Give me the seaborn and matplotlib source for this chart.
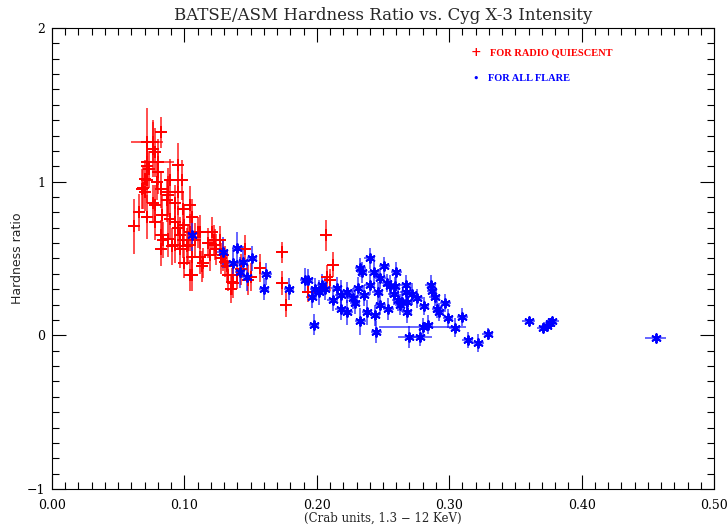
import numpy as np
import pandas as pd
import seaborn as sns
import matplotlib.pyplot as plt
from matplotlib.ticker import MultipleLocator, FormatStrFormatter

# radio quiescent points (red)
quiet_x = [0.062, 0.066, 0.069, 0.070, 0.072, 0.076, 0.082, 0.076, 0.078, 0.080,
           0.072, 0.072, 0.073, 0.080, 0.072, 0.079, 0.068, 0.070, 0.088, 0.095,
           0.082, 0.104, 0.087, 0.078, 0.093, 0.076, 0.083, 0.072, 0.078, 0.089,
           0.093, 0.099, 0.082, 0.088, 0.095, 0.099, 0.102, 0.104, 0.110, 0.112,
           0.100, 0.106, 0.112, 0.113, 0.106, 0.097, 0.091, 0.106, 0.095, 0.098,
           0.089, 0.088, 0.084, 0.082, 0.093, 0.097, 0.100, 0.103, 0.108, 0.119,
           0.121, 0.123, 0.127, 0.129, 0.131, 0.133, 0.135, 0.137, 0.136, 0.146,
           0.148, 0.157, 0.174, 0.174, 0.177, 0.122, 0.114, 0.104, 0.207, 0.212,
           0.208, 0.210, 0.193, 0.118, 0.124, 0.128, 0.132, 0.140, 0.143, 0.150]
quiet_y = [0.71, 0.80, 0.96, 1.02, 1.26, 1.21, 1.32, 1.26, 1.19, 1.13,
           1.13, 1.10, 1.08, 1.06, 1.01, 1.00, 0.95, 0.93, 0.93, 0.93,
           0.95, 0.85, 0.88, 0.85, 0.86, 0.86, 0.78, 0.77, 0.74, 0.76,
           0.74, 0.82, 0.65, 0.63, 0.70, 0.62, 0.58, 0.67, 0.67, 0.67,
           0.47, 0.51, 0.51, 0.45, 0.39, 0.56, 0.58, 0.77, 1.11, 1.01,
           1.01, 0.91, 0.62, 0.56, 0.59, 0.65, 0.72, 0.59, 0.62, 0.52,
           0.67, 0.59, 0.62, 0.52, 0.48, 0.39, 0.30, 0.34, 0.35, 0.56,
           0.36, 0.44, 0.54, 0.34, 0.20, 0.62, 0.47, 0.39, 0.65, 0.46,
           0.38, 0.36, 0.28, 0.60, 0.56, 0.50, 0.45, 0.39, 0.43, 0.38]
quiet_xerr = [0.003, 0.003, 0.003, 0.003, 0.012, 0.003, 0.004, 0.003, 0.004, 0.012,
              0.003, 0.003, 0.003, 0.004, 0.003, 0.003, 0.003, 0.003, 0.004, 0.004,
              0.003, 0.004, 0.003, 0.003, 0.004, 0.003, 0.003, 0.003, 0.003, 0.003,
              0.004, 0.004, 0.003, 0.003, 0.004, 0.004, 0.004, 0.004, 0.004, 0.004,
              0.004, 0.004, 0.004, 0.004, 0.004, 0.004, 0.003, 0.004, 0.004, 0.004,
              0.004, 0.004, 0.003, 0.003, 0.004, 0.004, 0.004, 0.004, 0.004, 0.004,
              0.004, 0.004, 0.004, 0.004, 0.004, 0.004, 0.004, 0.004, 0.004, 0.004,
              0.004, 0.004, 0.004, 0.004, 0.004, 0.004, 0.004, 0.004, 0.004, 0.004,
              0.004, 0.004, 0.003, 0.004, 0.004, 0.004, 0.004, 0.004, 0.004, 0.004]
quiet_yerr = [0.18, 0.12, 0.14, 0.12, 0.22, 0.18, 0.10, 0.14, 0.16, 0.15,
              0.12, 0.13, 0.12, 0.14, 0.15, 0.12, 0.13, 0.12, 0.16, 0.15,
              0.12, 0.12, 0.14, 0.13, 0.12, 0.12, 0.13, 0.14, 0.12, 0.13,
              0.12, 0.12, 0.10, 0.12, 0.14, 0.12, 0.12, 0.12, 0.10, 0.11,
              0.10, 0.12, 0.11, 0.10, 0.10, 0.12, 0.12, 0.12, 0.14, 0.13,
              0.14, 0.13, 0.12, 0.11, 0.12, 0.12, 0.13, 0.12, 0.11, 0.10,
              0.10, 0.10, 0.09, 0.10, 0.10, 0.10, 0.09, 0.10, 0.09, 0.09,
              0.10, 0.09, 0.07, 0.08, 0.08, 0.10, 0.10, 0.10, 0.10, 0.08,
              0.08, 0.07, 0.06, 0.10, 0.10, 0.10, 0.10, 0.09, 0.10, 0.09]

# flare points (blue)
flare_x = [0.106, 0.129, 0.137, 0.140, 0.144, 0.151, 0.142, 0.147, 0.162, 0.160,
           0.179, 0.191, 0.193, 0.196, 0.199, 0.202, 0.204, 0.198, 0.212, 0.218,
           0.218, 0.223, 0.223, 0.229, 0.233, 0.234, 0.233, 0.236, 0.238, 0.240,
           0.240, 0.243, 0.244, 0.245, 0.246, 0.248, 0.251, 0.253, 0.254, 0.255,
           0.260, 0.259, 0.261, 0.263, 0.267, 0.267, 0.268, 0.268, 0.270, 0.248,
           0.286, 0.289, 0.297, 0.291, 0.292, 0.284, 0.278, 0.280, 0.299, 0.304,
           0.310, 0.314, 0.322, 0.329, 0.360, 0.371, 0.374, 0.376, 0.378, 0.456,
           0.206, 0.215, 0.227, 0.276, 0.272, 0.258, 0.264, 0.281, 0.287, 0.231]
flare_y = [0.65, 0.54, 0.47, 0.57, 0.48, 0.50, 0.41, 0.38, 0.40, 0.30,
           0.30, 0.36, 0.36, 0.25, 0.30, 0.28, 0.33, 0.07, 0.23, 0.26,
           0.17, 0.28, 0.15, 0.21, 0.44, 0.41, 0.09, 0.26, 0.15, 0.50,
           0.33, 0.41, 0.13, 0.02, 0.28, 0.20, 0.45, 0.34, 0.17, 0.32,
           0.41, 0.32, 0.23, 0.20, 0.33, 0.28, 0.22, 0.15, -0.01, 0.37,
           0.33, 0.25, 0.21, 0.17, 0.15, 0.07, -0.01, 0.055, 0.11, 0.05,
           0.12, -0.03, -0.05, 0.01, 0.09, 0.05, 0.06, 0.08, 0.09, -0.02,
           0.30, 0.31, 0.24, 0.24, 0.27, 0.27, 0.22, 0.19, 0.29, 0.31]
flare_xerr = [0.003, 0.004, 0.004, 0.004, 0.004, 0.004, 0.004, 0.004, 0.004, 0.004,
              0.004, 0.004, 0.004, 0.004, 0.004, 0.004, 0.004, 0.004, 0.004, 0.004,
              0.004, 0.004, 0.004, 0.004, 0.004, 0.004, 0.004, 0.004, 0.004, 0.004,
              0.004, 0.004, 0.004, 0.004, 0.004, 0.004, 0.004, 0.004, 0.004, 0.004,
              0.004, 0.004, 0.004, 0.004, 0.004, 0.004, 0.004, 0.004, 0.009, 0.004,
              0.004, 0.004, 0.004, 0.004, 0.004, 0.004, 0.009, 0.033, 0.004, 0.004,
              0.004, 0.004, 0.004, 0.004, 0.005, 0.005, 0.005, 0.005, 0.005, 0.008,
              0.004, 0.004, 0.004, 0.004, 0.004, 0.004, 0.004, 0.004, 0.004, 0.004]
flare_yerr = [0.10, 0.10, 0.10, 0.10, 0.10, 0.08, 0.10, 0.09, 0.07, 0.07,
              0.07, 0.08, 0.07, 0.07, 0.07, 0.08, 0.07, 0.07, 0.07, 0.10,
              0.07, 0.07, 0.08, 0.07, 0.06, 0.07, 0.09, 0.07, 0.08, 0.07,
              0.07, 0.07, 0.07, 0.07, 0.07, 0.07, 0.06, 0.06, 0.07, 0.07,
              0.07, 0.06, 0.07, 0.07, 0.06, 0.07, 0.07, 0.07, 0.07, 0.07,
              0.06, 0.06, 0.06, 0.06, 0.06, 0.06, 0.06, 0.06, 0.06, 0.06,
              0.06, 0.05, 0.06, 0.04, 0.03, 0.03, 0.03, 0.03, 0.03, 0.02,
              0.07, 0.07, 0.07, 0.06, 0.07, 0.07, 0.07, 0.06, 0.06, 0.07]

quiet = pd.DataFrame({'x': quiet_x, 'y': quiet_y, 'xerr': quiet_xerr, 'yerr': quiet_yerr})
flare = pd.DataFrame({'x': flare_x, 'y': flare_y, 'xerr': flare_xerr, 'yerr': flare_yerr})

sns.set_style('ticks')
plt.rcParams['font.family'] = ['DejaVu Serif']

fig = plt.figure(figsize=(7.28, 5.25), dpi=100)
ax = fig.add_axes([0.0714, 0.0686, 0.9094, 0.8781])

ax.errorbar(quiet['x'], quiet['y'], xerr=quiet['xerr'], yerr=quiet['yerr'],
            fmt='none', ecolor='red', elinewidth=1.3, alpha=0.75, capsize=0)
ax.errorbar(flare['x'], flare['y'], xerr=flare['xerr'], yerr=flare['yerr'],
            fmt='none', ecolor='blue', elinewidth=1.3, alpha=0.65, capsize=0)
sns.scatterplot(data=quiet, x='x', y='y', marker='+', color='red', s=70,
                linewidth=1.4, ax=ax, zorder=3)
sns.scatterplot(data=flare, x='x', y='y', marker=(6, 2, 0), color='blue', s=40,
                linewidth=1.4, ax=ax, zorder=4)

ax.set_xlim(0, 0.5)
ax.set_ylim(-1, 2)
ax.xaxis.set_major_locator(MultipleLocator(0.1))
ax.xaxis.set_minor_locator(MultipleLocator(0.01))
ax.xaxis.set_major_formatter(FormatStrFormatter('%.2f'))
ax.yaxis.set_major_locator(MultipleLocator(1))
ax.yaxis.set_minor_locator(MultipleLocator(0.1))
ax.tick_params(which='both', direction='in', top=True, right=True, labelsize=9, colors='black')
ax.tick_params(which='major', length=10, width=0.8)
ax.tick_params(which='minor', length=5, width=0.8)
ax.tick_params(axis='x', which='major', pad=7)
ax.tick_params(axis='y', which='major', pad=5)
for s in ax.spines.values():
    s.set_linewidth(0.8)
    s.set_color('black')

ax.set_title('BATSE/ASM Hardness Ratio vs. Cyg X-3 Intensity', fontsize=12, pad=6)
ax.set_xlabel('(Crab units, 1.3 \u2212 12 KeV)', fontsize=8.5)
ax.xaxis.set_label_coords(0.5, -0.049)
ax.set_ylabel('Hardness ratio', fontsize=9, family='DejaVu Sans')
ax.yaxis.set_label_coords(-0.043, 0.5)

# legend written as text, like the original
ax.text(0.320, 1.84, '+', color='red', fontsize=9, ha='center', va='center', weight='bold')
ax.text(0.331, 1.84, 'FOR RADIO QUIESCENT', color='red', fontsize=7.5,
        family='Liberation Serif', weight='bold', va='center')
ax.text(0.320, 1.67, '\u2022', color='blue', fontsize=8, ha='center', va='center')
ax.text(0.329, 1.67, 'FOR ALL FLARE', color='blue', fontsize=7.5,
        family='Liberation Serif', weight='bold', va='center')

plt.savefig('out.png', dpi=100)
